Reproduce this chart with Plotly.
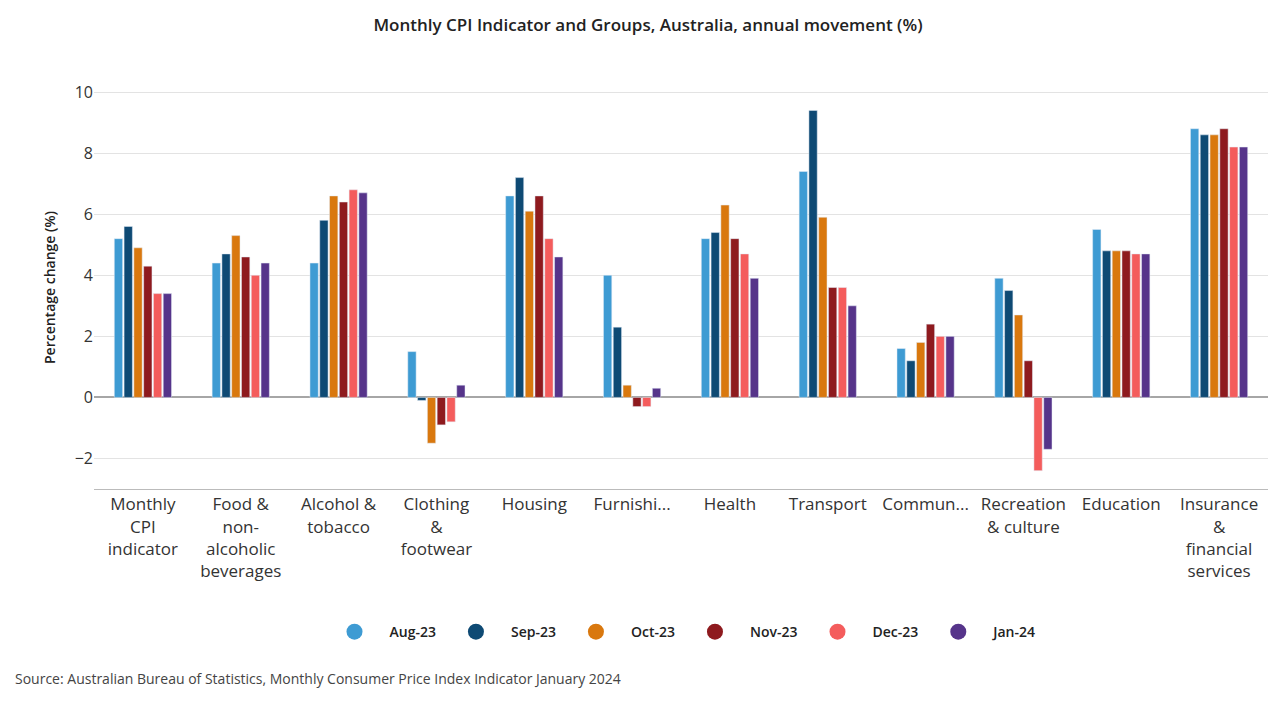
import plotly.graph_objects as go

categories = ['Monthly<br>CPI<br>indicator', 'Food &<br>non-<br>alcoholic<br>beverages', 'Alcohol &<br>tobacco',
              'Clothing<br>&<br>footwear', 'Housing', 'Furnishi...', 'Health', 'Transport', 'Commun...',
              'Recreation<br>& culture', 'Education', 'Insurance<br>&<br>financial<br>services']
months = ['Aug-23', 'Sep-23', 'Oct-23', 'Nov-23', 'Dec-23', 'Jan-24']
aug23 = [5.2, 4.4, 4.4, 1.5, 6.6, 4.0, 5.2, 7.4, 1.6, 3.9, 5.5, 8.8]
sep23 = [5.6, 4.7, 5.8, -0.1, 7.2, 2.3, 5.4, 9.4, 1.2, 3.5, 4.8, 8.6]
oct23 = [4.9, 5.3, 6.6, -1.5, 6.1, 0.4, 6.3, 5.9, 1.8, 2.7, 4.8, 8.6]
nov23 = [4.3, 4.6, 6.4, -0.9, 6.6, -0.3, 5.2, 3.6, 2.4, 1.2, 4.8, 8.8]
dec23 = [3.4, 4.0, 6.8, -0.8, 5.2, -0.3, 4.7, 3.6, 2.0, -2.4, 4.7, 8.2]
jan24 = [3.4, 4.4, 6.7, 0.4, 4.6, 0.3, 3.9, 3.0, 2.0, -1.7, 4.7, 8.2]
series = [aug23, sep23, oct23, nov23, dec23, jan24]
colors = ['#3E9BD3', '#0E4A74', '#D9780E', '#8E1A1E', '#F45C5C', '#56348A']

fig = go.Figure()
for name, vals, col in zip(months, series, colors):
    fig.add_trace(go.Bar(x=categories, y=vals, name=name, marker_color=col, showlegend=False))
    fig.add_trace(go.Scatter(x=[categories[0]], y=[None], mode='markers', name=name,
                             marker=dict(symbol='circle', size=20, color=col)))

fig.update_layout(
    width=1280, height=711,
    font=dict(family='Open Sans', size=15, color='#333'),
    plot_bgcolor='white', paper_bgcolor='white',
    title=dict(text='Monthly CPI Indicator and Groups, Australia, annual movement (%)',
               x=0.5, y=0.976, xanchor='center', yanchor='middle',
               font=dict(size=17, color='#222', weight=600)),
    barmode='group', bargap=0.4, bargroupgap=0.15,
    margin=dict(l=86, r=20, t=78, b=230),
    yaxis=dict(title=dict(text='Percentage change (%)', font=dict(size=14, color='#222', weight=600)),
               range=[-3, 10.2], tickvals=[-2, 0, 2, 4, 6, 8, 10], gridcolor='#e3e3e3',
               zeroline=True, zerolinecolor='#a6a6a6', zerolinewidth=2, tickfont=dict(size=16),
               automargin=False),
    xaxis=dict(showline=True, linecolor='#bbb', tickfont=dict(size=17), ticks='',
               range=[-0.5, 11.5], automargin=False),
    legend=dict(orientation='h', x=0.5, xanchor='center', y=-0.355, yanchor='middle',
                font=dict(size=14, color='#222', weight=600), itemwidth=60),
    annotations=[dict(text='Source: Australian Bureau of Statistics, Monthly Consumer Price Index Indicator January 2024',
                      xref='paper', yref='paper', x=-0.069, y=-0.471, xanchor='left', yanchor='middle',
                      showarrow=False, font=dict(size=14, color='#444'))],
)

fig.write_html('out.html')
